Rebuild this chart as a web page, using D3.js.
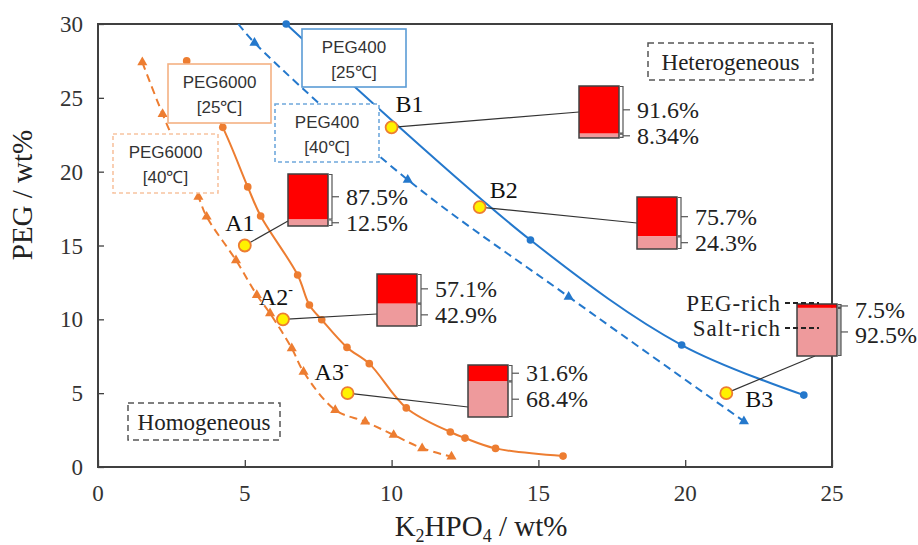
<!DOCTYPE html>
<html><head><meta charset="utf-8">
<script src="https://cdn.jsdelivr.net/npm/d3@7/dist/d3.min.js"></script>
<style>
html,body{margin:0;padding:0;background:#fff;}
svg{display:block;}
</style></head>
<body>
<svg id="chart" width="918" height="545"></svg>
<script>
// ---------- data ----------
const xTicks = [0, 5, 10, 15, 20, 25];
const yTicks = [0, 5, 10, 15, 20, 25, 30];

// PEG6000, 25 C (solid orange, circles)
const peg6000_25_x = [3.02, 4.25, 5.1, 5.54, 6.8, 7.2, 7.62, 8.48, 9.24, 10.5, 12.0, 12.5, 13.54, 15.84];
const peg6000_25_y = [27.5, 23.0, 18.97, 17.0, 13.0, 10.97, 9.97, 8.1, 7.0, 4.0, 2.37, 1.96, 1.26, 0.74];
// PEG6000, 40 C (dashed orange, triangles)
const peg6000_40_x = [1.51, 2.2, 3.42, 3.7, 4.7, 5.41, 5.86, 6.6, 7.0, 8.08, 9.1, 10.07, 11.04, 12.04];
const peg6000_40_y = [27.4, 23.9, 18.3, 16.95, 14.0, 11.65, 10.4, 8.04, 6.45, 3.86, 3.07, 2.17, 1.27, 0.7];
// PEG400, 25 C (solid blue, circles)
const peg400_25_x = [6.41, 14.73, 19.88, 24.04];
const peg400_25_y = [30.0, 15.37, 8.26, 4.87];
// PEG400, 40 C (dashed blue, triangles) - first point is where the line enters the frame
const peg400_40_x = [4.78, 5.33, 10.55, 16.03, 22.0];
const peg400_40_y = [30.0, 28.73, 19.45, 11.53, 3.1];

// feed mixtures
const mixNames = ["A1", "A2", "A3", "B1", "B2", "B3"];
const mixSup = ["", "-", "-", "", "", ""];
const mixK2HPO4 = [5.0, 6.3, 8.5, 10.0, 13.0, 21.4];
const mixPEG = [15.0, 10.0, 5.0, 23.0, 17.6, 5.0];
const pegRichPct = [87.5, 57.1, 31.6, 91.6, 75.7, 7.5];
const saltRichPct = [12.5, 42.9, 68.4, 8.34, 24.3, 92.5];

const boxLabels = [["PEG6000", "[25℃]"], ["PEG6000", "[40℃]"], ["PEG400", "[25℃]"], ["PEG400", "[40℃]"]];
const regionLabels = ["Homogeneous", "Heterogeneous"];
const phaseLabels = ["PEG-rich", "Salt-rich"];

// ---------- layout ----------
const svg = d3.select("#chart");
const L = 98, R = 832, T = 24, B = 467;
const x = d3.scaleLinear().domain([0, 25]).range([L, R]);
const y = d3.scaleLinear().domain([0, 30]).range([B, T]);

const serif = "'Liberation Serif','Times New Roman',serif";
const sans = "'Liberation Sans',Arial,sans-serif";
const ORANGE = "#ED7D31", BLUE = "#2478CC";

// axes (ticks inward)
const gx = svg.append("g").attr("transform", `translate(0,${B})`)
  .call(d3.axisBottom(x).tickValues(xTicks).tickSize(-7).tickFormat(""));
const gy = svg.append("g").attr("transform", `translate(${L},0)`)
  .call(d3.axisLeft(y).tickValues(yTicks).tickSize(-6).tickFormat(""));
[gx, gy].forEach(g => { g.select(".domain").remove(); g.selectAll("line").attr("stroke", "#404040").attr("stroke-width", 1.3); });

svg.append("rect").attr("x", L).attr("y", T).attr("width", R - L).attr("height", B - T)
  .attr("fill", "none").attr("stroke", "#404040").attr("stroke-width", 2);

svg.append("g").selectAll("text").data(xTicks).join("text")
  .attr("x", d => x(d)).attr("y", B + 34).attr("text-anchor", "middle")
  .attr("font-family", serif).attr("font-size", 23).attr("fill", "#333").text(d => d);
svg.append("g").selectAll("text").data(yTicks).join("text")
  .attr("x", L - 15).attr("y", d => y(d) + 8).attr("text-anchor", "end")
  .attr("font-family", serif).attr("font-size", 23).attr("fill", "#333").text(d => d);

// axis titles
const xt = svg.append("text").attr("x", 481).attr("y", 536).attr("text-anchor", "middle")
  .attr("font-family", serif).attr("font-size", 29).attr("fill", "#222");
xt.append("tspan").text("K");
xt.append("tspan").attr("font-size", 18).attr("dy", 6).text("2");
xt.append("tspan").attr("dy", -6).text("HPO");
xt.append("tspan").attr("font-size", 18).attr("dy", 6).text("4");
xt.append("tspan").attr("dy", -6).text(" / wt%");
svg.append("text").attr("transform", "translate(32,195) rotate(-90)").attr("text-anchor", "middle")
  .attr("font-family", serif).attr("font-size", 29).attr("fill", "#222").text("PEG / wt%");

// ---------- curves ----------
const series = [
  {xs: peg6000_25_x, ys: peg6000_25_y, color: ORANGE, dash: null, mark: "circle", skip: 0},
  {xs: peg6000_40_x, ys: peg6000_40_y, color: ORANGE, dash: "8,5", mark: "triangle", skip: 0},
  {xs: peg400_25_x, ys: peg400_25_y, color: BLUE, dash: null, mark: "circle", skip: 0},
  {xs: peg400_40_x, ys: peg400_40_y, color: BLUE, dash: "8,5", mark: "triangle", skip: 1}
];
const lineGen = d3.line().x(d => x(d[0])).y(d => y(d[1])).curve(d3.curveCatmullRom.alpha(0.5));
series.forEach(s => {
  const pts = s.xs.map((v, i) => [v, s.ys[i]]);
  svg.append("path").datum(pts).attr("d", lineGen).attr("fill", "none")
    .attr("stroke", s.color).attr("stroke-width", 2).attr("stroke-dasharray", s.dash);
  const sym = d3.symbol().type(s.mark === "circle" ? d3.symbolCircle : d3.symbolTriangle)
    .size(s.mark === "circle" ? 46 : 44);
  svg.append("g").selectAll("path").data(pts.slice(s.skip)).join("path")
    .attr("d", sym).attr("transform", d => `translate(${x(d[0])},${y(d[1])})`)
    .attr("fill", s.color);
});

// ---------- legend boxes ----------
const boxLayout = [
  {x0: 168, y0: 64, x1: 271, y1: 123, stroke: "#F4B183", dash: null},
  {x0: 113, y0: 134, x1: 218, y1: 193, stroke: "#F8C3A0", dash: "4,3"},
  {x0: 302, y0: 29, x1: 406, y1: 87, stroke: "#5B9BD5", dash: null},
  {x0: 275, y0: 104, x1: 379, y1: 162, stroke: "#6FA8DC", dash: "4,3"}
];
boxLabels.forEach((lab, i) => {
  const b = boxLayout[i];
  svg.append("rect").attr("x", b.x0).attr("y", b.y0).attr("width", b.x1 - b.x0).attr("height", b.y1 - b.y0)
    .attr("fill", "#fff").attr("stroke", b.stroke).attr("stroke-width", 1.6).attr("stroke-dasharray", b.dash);
  const cx = (b.x0 + b.x1) / 2;
  svg.append("text").attr("x", cx).attr("y", b.y0 + 24).attr("text-anchor", "middle")
    .attr("font-family", sans).attr("font-size", 17).attr("fill", "#333").text(lab[0]);
  svg.append("text").attr("x", cx).attr("y", b.y0 + 49).attr("text-anchor", "middle")
    .attr("font-family", sans).attr("font-size", 17).attr("fill", "#333").text(lab[1]);
});

// region labels
const regionLayout = [{x0: 128, y0: 403, x1: 280, y1: 440}, {x0: 648, y0: 43, x1: 813, y1: 80}];
regionLabels.forEach((t, i) => {
  const b = regionLayout[i];
  svg.append("rect").attr("x", b.x0).attr("y", b.y0).attr("width", b.x1 - b.x0).attr("height", b.y1 - b.y0)
    .attr("fill", "#fff").attr("stroke", "#555").attr("stroke-width", 1.5).attr("stroke-dasharray", "6,4");
  svg.append("text").attr("x", (b.x0 + b.x1) / 2).attr("y", (b.y0 + b.y1) / 2 + 8).attr("text-anchor", "middle")
    .attr("font-family", serif).attr("font-size", 23).attr("fill", "#222").text(t);
});

// ---------- mixture points, leaders and phase bars ----------
const barLayout = [
  {bx: 288, by: 174, ax: 288, ay: 221, lx: -5, ly: -15},
  {bx: 377, by: 274, ax: 377, ay: 314, lx: -7, ly: -14},
  {bx: 468, by: 365, ax: 468, ay: 407, lx: -16, ly: -13},
  {bx: 579, by: 86, ax: 579, ay: 112, lx: 18, ly: -15},
  {bx: 637, by: 197, ax: 637, ay: 223, lx: 24, ly: -9},
  {bx: 797, by: 304, ax: 815, ay: 356, lx: 33, ly: 14}
];
const BW = 40, BH = 52;
const hScale = d3.scaleLinear().domain([0, 100]).range([0, BH]);

mixNames.forEach((name, i) => {
  const L0 = barLayout[i];
  const px = x(mixK2HPO4[i]), py = y(mixPEG[i]);
  svg.append("line").attr("x1", px).attr("y1", py).attr("x2", L0.ax).attr("y2", L0.ay)
    .attr("stroke", "#333").attr("stroke-width", 1.2);
  const hTop = hScale(pegRichPct[i]), hBot = hScale(saltRichPct[i]);
  const top = L0.by, mid = top + hTop, bot = mid + hBot, right = L0.bx + BW;
  svg.append("rect").attr("x", L0.bx).attr("y", top).attr("width", BW).attr("height", hTop).attr("fill", "#FF0000");
  svg.append("rect").attr("x", L0.bx).attr("y", mid).attr("width", BW).attr("height", hBot).attr("fill", "#EE9A9C");
  svg.append("rect").attr("x", L0.bx).attr("y", top).attr("width", BW).attr("height", bot - top)
    .attr("fill", "none").attr("stroke", "#404040").attr("stroke-width", 1.5);
  const segs = [[top, mid], [mid, bot]];
  const midTop = (top + mid) / 2, midBot = (mid + bot) / 2;
  const labTop = midTop + (hTop < 10 ? 4 : 0), labBot = Math.max(midBot, labTop + 25);
  segs.forEach((sg, k) => {
    svg.append("path").attr("d", `M${right + 1},${sg[0] + 0.5}H${right + 4}V${sg[1] - 0.5}H${right + 1}`)
      .attr("fill", i === 5 ? "#bbb" : "#fff").attr("stroke", "#555").attr("stroke-width", 1.2);
    const tm = (sg[0] + sg[1]) / 2;
    svg.append("line").attr("x1", right + 4).attr("y1", tm).attr("x2", right + 11).attr("y2", tm)
      .attr("stroke", "#555").attr("stroke-width", 1.2);
  });
  [[pegRichPct[i], labTop], [saltRichPct[i], labBot]].forEach(d => {
    svg.append("text").attr("x", right + 18).attr("y", d[1]).attr("dominant-baseline", "central")
      .attr("font-family", serif).attr("font-size", 24).attr("fill", "#222").text(d[0] + "%");
  });
  svg.append("circle").attr("cx", px).attr("cy", py).attr("r", 6)
    .attr("fill", "#FFF200").attr("stroke", ORANGE).attr("stroke-width", 1.8);
  const t = svg.append("text").attr("x", px + L0.lx).attr("y", py + L0.ly).attr("text-anchor", "middle")
    .attr("font-family", serif).attr("font-size", 24).attr("fill", "#111").text(name);
  if (mixSup[i]) t.append("tspan").attr("font-size", 14).attr("dy", -11).text(mixSup[i]);
});

// phase-name labels (next to B3 bar)
const b3 = barLayout[5];
phaseLabels.forEach((t, k) => {
  const yy = k === 0 ? b3.by - 1 : b3.by + 24;
  svg.append("text").attr("x", 781).attr("y", yy).attr("text-anchor", "end").attr("dominant-baseline", "central")
    .attr("font-family", serif).attr("font-size", 23).attr("letter-spacing", 1).attr("fill", "#222").text(t);
  svg.append("line").attr("x1", 785).attr("y1", yy).attr("x2", 819).attr("y2", yy)
    .attr("stroke", "#222").attr("stroke-width", 2).attr("stroke-dasharray", "5,3");
});
</script>
</body></html>
